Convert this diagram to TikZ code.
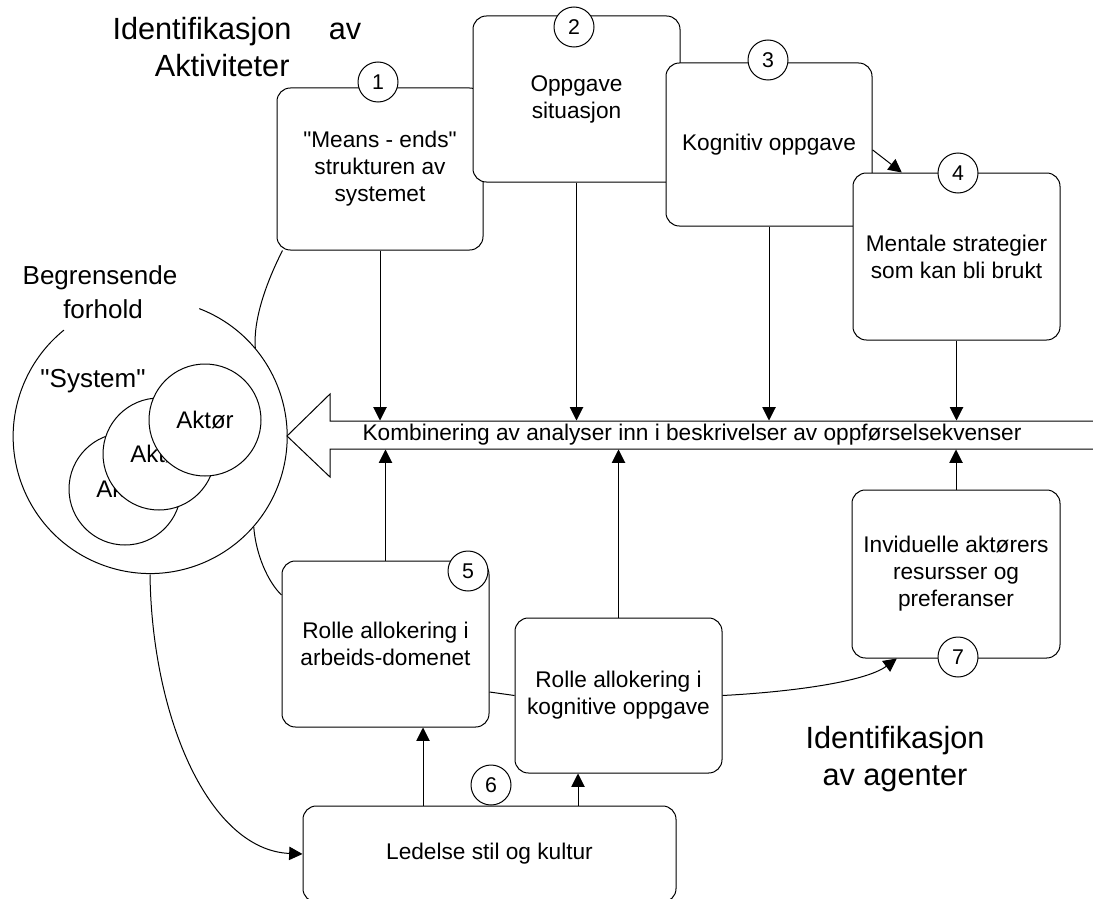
\documentclass[tikz,border=0pt]{standalone}
\usepackage{fontspec}
\setmainfont{Liberation Sans}[Ligatures=TeXOff]
\usetikzlibrary{arrows.meta}

\begin{document}
\begin{tikzpicture}[x=0.75pt, y=-0.75pt, line width=0.75pt,
    boks/.style={draw, fill=white, rounded corners=10pt, align=center, inner sep=0pt, font=\fontsize{17}{20.25}\selectfont},
    nummer/.style={draw, fill=white, circle, minimum size=30pt, inner sep=0pt, font=\fontsize{16}{16}\selectfont},
    aktor/.style={draw, fill=white, circle, minimum size=84pt, inner sep=0pt, font=\fontsize{18}{18}\selectfont},
    pil/.style={-{Triangle[length=10pt, width=10pt]}},
    stor/.style={anchor=base, inner sep=0pt, font=\fontsize{23}{28}\selectfont},
    merk/.style={anchor=base, inner sep=0pt, font=\fontsize{19.5}{23}\selectfont}]
    \useasboundingbox (0,0) rectangle (1093,899);
    % Identifikasjon av aktiviteter
    \node[boks, minimum width=154.5pt, minimum height=121.5pt] (means) at (380,169) {"Means - ends"\\strukturen av\\systemet};
    \node[boks, minimum width=155.25pt, minimum height=124.5pt] (oppg) at (576.5,99) {Oppgave\\situasjon};
    \node[boks, minimum width=154.5pt, minimum height=122.25pt] (kogn) at (769,144.5) {Kognitiv oppgave};
    \node[boks, minimum width=155.25pt, minimum height=125.25pt] (ment) at (956.5,256.5) {Mentale strategier\\som kan bli brukt};
    \node[nummer] (n1) at (378,82) {1};
    \node[nummer] (n2) at (574,27) {2};
    \node[nummer] (n3) at (768,60) {3};
    \node[nummer] (n4) at (958,173) {4};
    \draw[pil] ([yshift=-4pt]kogn.east) -- ([xshift=37pt]ment.north west);
    \node[stor, anchor=base west] (idakt) at (112,40) {Identifikasjon\hspace{28pt}av};
    \node[stor, anchor=base east] (akt) at (290,77) {Aktiviteter};
    % Identifikasjon av agenter
    \node[boks, minimum width=155.25pt, minimum height=124.5pt] (rollea) at (385.5,644) {Rolle allokering i\\arbeids-domenet};
    \node[boks, minimum width=155.25pt, minimum height=116.25pt] (rollek) at (618.5,695.5) {Rolle allokering i\\kognitive oppgave};
    \node[boks, minimum width=156pt, minimum height=126pt] (indiv) at (956,574) {Inviduelle aktørers\\resursser og\\preferanser};
    \node[boks, minimum width=279.75pt, minimum height=72pt] (ledelse) at (489.5,854) {Ledelse stil og kultur};
    \node[nummer] (n5) at (468,571) {5};
    \node[nummer] (n6) at (491,785) {6};
    \node[nummer] (n7) at (958,657) {7};
    \node[stor] (idag) at (895,748) {Identifikasjon};
    \node[stor] (avag) at (895,785) {av agenter};
    % Kombinering
    \node[minimum height=21pt, inner sep=0pt, font=\fontsize{17}{20.25}\selectfont] (komb) at (692,435) {Kombinering av analyser inn i beskrivelser av oppførselsekvenser};
    \draw (1100,421) -- (330,421) -- (330,394) -- (287,436) -- (330,477) -- (330,449) -- (1100,449);
    \foreach \b in {means, oppg, kogn, ment}
        \draw[pil] (\b.south) -- (\b.south |- komb.north);
    \foreach \b in {rollea, rollek, indiv}
        \draw[pil] (\b.north) -- (\b.north |- komb.south);
    \coordinate (ka) at (423,0);
    \coordinate (kk) at (578,0);
    \draw[pil] (ledelse.north -| ka) -- (rollea.south -| ka);
    \draw[pil] (ledelse.north -| kk) -- (rollek.south -| kk);
    \draw ([yshift=-36pt]rollea.east) -- (rollek.west);
    \draw[pil] (rollek.east) .. controls (790,692) and (865,682) .. ([xshift=34pt]indiv.south west);
    % Begrensende forhold
    \node[circle, minimum size=205.5pt, inner sep=0pt] (grense) at (150,437) {};
    \draw (grense.69) arc[start angle=69, delta angle=-300, radius=102.75pt];
    \node[merk] (begr) at (100,284) {Begrensende};
    \node[merk] (forh) at (103,318) {forhold};
    \node[merk] (syst) at (93,387) {"System"};
    \node[aktor] (a1) at (125,489) {Aktør};
    \node[aktor] (a2) at (159,454) {Aktør};
    \node[aktor] (a3) at (205,420) {Aktør};
    \draw ([xshift=4.5pt]means.south west) .. controls (266,283) and (253,320) .. (grense.40);
    \draw (grense.-41) .. controls (256,555) and (268,582) .. ([yshift=36.75pt]rollea.west);
    \draw[pil] (grense.south) .. controls (152,720) and (210,850) .. (ledelse.west);
\end{tikzpicture}
\end{document}
